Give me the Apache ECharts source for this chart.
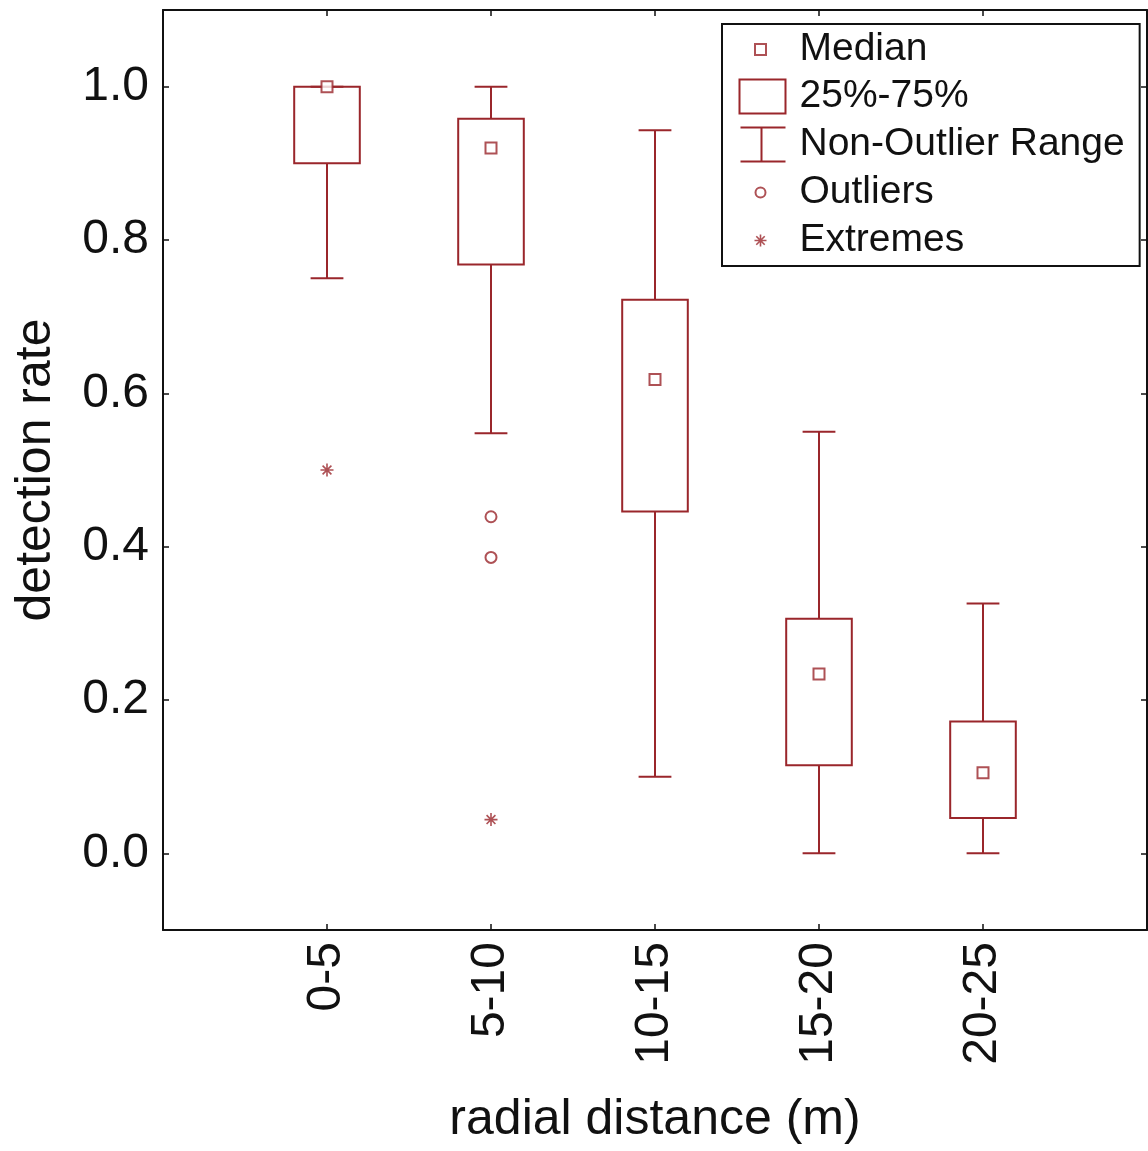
<!DOCTYPE html>
<html>
<head>
<meta charset="utf-8">
<title>Detection rate by radial distance</title>
<script src="https://cdn.jsdelivr.net/npm/echarts@6/dist/echarts.min.js"></script>
<style>
  html, body { margin: 0; padding: 0; background: #fff; }
  #chart { width: 1148px; height: 1151px; }
</style>
</head>
<body>
<div id="chart"></div>
<script>
// Distance classes on the x axis
const categories = ['0-5', '5-10', '10-15', '15-20', '20-25'];

// Box-and-whisker summary per distance class
const whiskerLow  = [0.75, 0.548, 0.100, 0.000, 0.000];
const q1          = [0.90, 0.768, 0.446, 0.115, 0.046];
const median      = [1.00, 0.920, 0.618, 0.234, 0.105];
const q3          = [1.00, 0.958, 0.722, 0.306, 0.172];
const whiskerHigh = [1.00, 1.000, 0.943, 0.550, 0.326];

// Individual points beyond the whiskers: [class index, value]
const outliers = [[1, 0.439], [1, 0.386]];
const extremes = [[0, 0.500], [1, 0.044]];

// Y tick labels
const yTicks = [0.0, 0.2, 0.4, 0.6, 0.8, 1.0];

const RED = '#9a262b';
const INK = '#111111';
const FONT = '"Liberation Sans", Arial, sans-serif';

// classes sit at x = 1..5 on a 0..6 value axis
const pos = categories.map((c, i) => i + 1);

const ASTERISK = 'path://M0,5L10,5M5,0L5,10M1.6,1.6L8.4,8.4M8.4,1.6L1.6,8.4';

const chart = echarts.init(document.getElementById('chart'), null, { renderer: 'canvas' });

const baseX = {
  type: 'value', min: 0, max: 6,
  splitLine: { show: false },
  axisLine: { show: true, onZero: false, lineStyle: { color: INK, width: 2 } },
  axisTick: { show: true, inside: true, length: 6, customValues: pos, lineStyle: { color: INK, width: 1.5 } }
};
const baseY = {
  type: 'value', min: -0.1, max: 1.1,
  splitLine: { show: false },
  axisLine: { show: true, onZero: false, lineStyle: { color: INK, width: 2 } },
  axisTick: { show: true, inside: true, length: 6, customValues: yTicks, lineStyle: { color: INK, width: 1.5 } }
};

chart.setOption({
  backgroundColor: '#fff',
  animation: false,
  grid: { left: 163, top: 10, right: 1, bottom: 221, containLabel: false },
  xAxis: [
    Object.assign({}, baseX, {
      position: 'bottom',
      name: 'radial distance (m)',
      nameLocation: 'middle',
      nameGap: 165,
      nameTextStyle: { fontFamily: FONT, fontSize: 50, color: INK },
      axisLabel: {
        customValues: pos,
        rotate: 90, margin: 12,
        fontFamily: FONT, fontSize: 48, color: INK,
        formatter: v => categories[Math.round(v) - 1] || ''
      }
    }),
    Object.assign({}, baseX, { position: 'top', axisLabel: { show: false } })
  ],
  yAxis: [
    Object.assign({}, baseY, {
      position: 'left',
      name: 'detection rate',
      nameLocation: 'middle',
      nameRotate: 90,
      nameGap: 102,
      nameTextStyle: { fontFamily: FONT, fontSize: 50, color: INK },
      axisLabel: {
        customValues: yTicks,
        margin: 14,
        fontFamily: FONT, fontSize: 48, color: INK,
        formatter: v => v.toFixed(1)
      }
    }),
    Object.assign({}, baseY, { position: 'right', axisLabel: { show: false } })
  ],
  legend: {
    orient: 'vertical',
    left: 722, top: 24,
    padding: [6, 15, 5, 14],
    itemWidth: 48, itemHeight: 36, itemGap: 8,
    borderColor: INK, borderWidth: 2,
    backgroundColor: '#fff',
    selectedMode: false,
    textStyle: { fontFamily: FONT, fontSize: 39, color: INK, padding: [0, 0, 0, 8] },
    data: [
      { name: 'Median',
        icon: 'path://M0,0M48,36M16.5,12.5L27.5,12.5L27.5,23.5L16.5,23.5Z',
        itemStyle: { color: '#fff', borderColor: RED, borderWidth: 2 } },
      { name: '25%-75%',
        icon: 'path://M0,0M48,36M1,1L47,1L47,35L1,35Z',
        itemStyle: { color: '#fff', borderColor: RED, borderWidth: 2 } },
      { name: 'Non-Outlier Range',
        icon: 'path://M0,0M48,36M2,1L47,1M23,1L23,35M2,35L47,35',
        itemStyle: { color: 'none', borderColor: RED, borderWidth: 2 } },
      { name: 'Outliers',
        icon: 'path://M0,0M48,36M27,18A5,5,0,1,1,17,18A5,5,0,1,1,27,18Z',
        itemStyle: { color: '#fff', borderColor: RED, borderWidth: 2 } },
      { name: 'Extremes',
        icon: 'path://M0,0M48,36M16,18L28,18M22,12L22,24M17.8,13.8L26.2,22.2M26.2,13.8L17.8,22.2',
        itemStyle: { color: 'none', borderColor: RED, borderWidth: 1.6 } }
    ]
  },
  series: [
    {
      // whiskers with end caps
      name: 'Non-Outlier Range',
      type: 'custom',
      xAxisIndex: 0, yAxisIndex: 0,
      itemStyle: { color: 'none', borderColor: RED, borderWidth: 2 },
      data: pos.map((x, i) => [x, whiskerLow[i], q1[i], q3[i], whiskerHigh[i]]),
      renderItem: function (params, api) {
        const x = api.value(0);
        const band = api.size([1, 0])[0];
        const cap = band * 0.2;
        const pLow = api.coord([x, api.value(1)]);
        const pQ1 = api.coord([x, api.value(2)]);
        const pQ3 = api.coord([x, api.value(3)]);
        const pHigh = api.coord([x, api.value(4)]);
        const style = { stroke: RED, lineWidth: 2, fill: null };
        const line = (x1, y1, x2, y2) => ({ type: 'line', shape: { x1, y1, x2, y2 }, style });
        return {
          type: 'group',
          children: [
            line(pLow[0], pLow[1], pQ1[0], pQ1[1]),
            line(pQ3[0], pQ3[1], pHigh[0], pHigh[1]),
            line(pLow[0] - cap / 2, pLow[1], pLow[0] + cap / 2, pLow[1]),
            line(pHigh[0] - cap / 2, pHigh[1], pHigh[0] + cap / 2, pHigh[1])
          ]
        };
      },
      z: 2
    },
    {
      // interquartile boxes
      name: '25%-75%',
      type: 'custom',
      xAxisIndex: 0, yAxisIndex: 0,
      itemStyle: { color: '#fff', borderColor: RED, borderWidth: 2 },
      data: pos.map((x, i) => [x, q1[i], q3[i]]),
      renderItem: function (params, api) {
        const x = api.value(0);
        const band = api.size([1, 0])[0];
        const w = band * 0.4;
        const lo = api.coord([x, api.value(1)]);
        const hi = api.coord([x, api.value(2)]);
        return {
          type: 'rect',
          shape: { x: lo[0] - w / 2, y: hi[1], width: w, height: lo[1] - hi[1] },
          style: { fill: null, stroke: RED, lineWidth: 2 }
        };
      },
      z: 3
    },
    {
      name: 'Median',
      type: 'scatter',
      xAxisIndex: 0, yAxisIndex: 0,
      symbol: 'rect', symbolSize: 11,
      itemStyle: { color: '#fff', borderColor: RED, borderWidth: 2 },
      data: pos.map((x, i) => [x, median[i]]),
      z: 5
    },
    {
      name: 'Outliers',
      type: 'scatter',
      xAxisIndex: 0, yAxisIndex: 0,
      symbol: 'circle', symbolSize: 11,
      itemStyle: { color: '#fff', borderColor: RED, borderWidth: 2 },
      data: outliers.map(d => [pos[d[0]], d[1]]),
      z: 5
    },
    {
      name: 'Extremes',
      type: 'scatter',
      xAxisIndex: 0, yAxisIndex: 0,
      symbol: ASTERISK, symbolSize: 13,
      itemStyle: { color: 'none', borderColor: RED, borderWidth: 1.6 },
      data: extremes.map(d => [pos[d[0]], d[1]]),
      z: 5
    }
  ]
});
</script>
</body>
</html>
